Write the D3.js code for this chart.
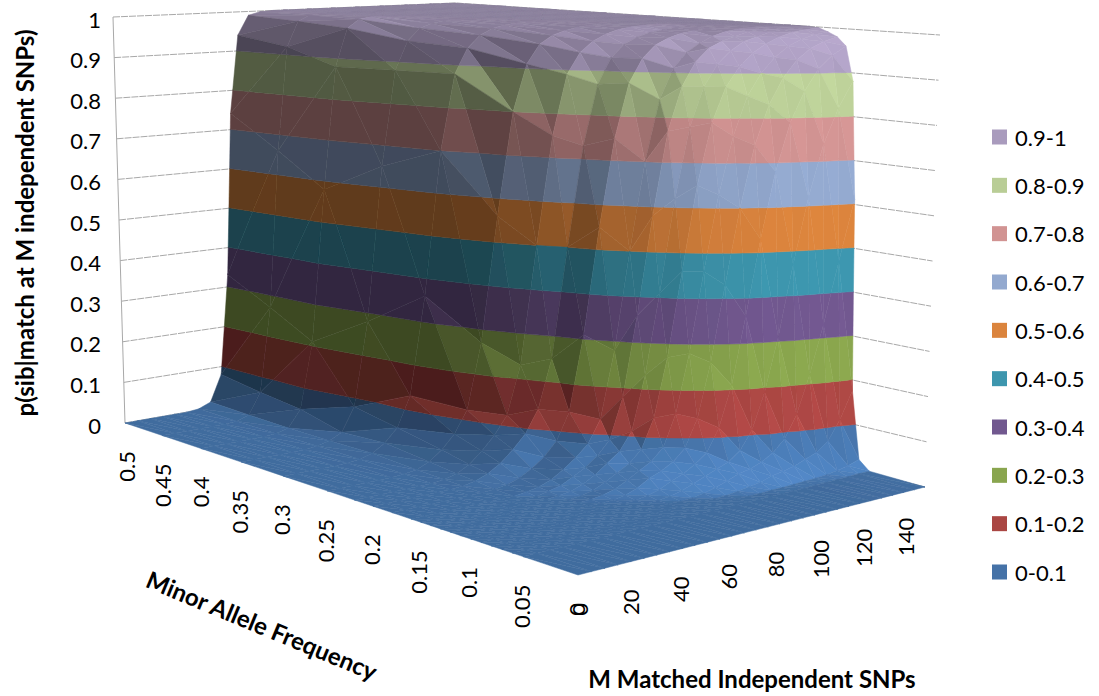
<!DOCTYPE html>
<html>
<head>
<meta charset="utf-8">
<script src="https://cdnjs.cloudflare.com/ajax/libs/d3/7.8.5/d3.min.js"></script>
<style>
  html, body { margin: 0; background: #fff; }
  text { font-family: Lato, "Open Sans", sans-serif; fill: #000; }
</style>
</head>
<body>
<svg id="chart" width="1099" height="696"></svg>
<script>
// values; rows are one minor allele frequency, columns are M
const mValues = [0,5,10,15,20,25,30,35,40,45,50,55,60,65,70,75,80,85,90,95,100,105,110,115,120,125,130,135,140,145];
const mafValues = [0,0.05,0.06,0.07,0.08,0.09,0.1,0.11,0.12,0.13,0.14,0.15,0.16,0.18,0.2,0.22,0.25,0.3,0.35,0.4,0.45,0.5];
const z00 = [0,0,0,0,0,0,0,0,0,0,0,0,0,0,0,0,0,0,0,0,0,0,0,0,0,0,0,0,0,0];
const z05 = [0,0,0,0,0,0,0,0,0,0,0,0,0,0,0,0,0,0,0,0,0,0,0,0,.001,.001,.002,.002,.003,.003];
const z06 = [0,0,0,0,0,0,0,0,0,0,0,0,0,0,0,0,0,0,0,0,0,.001,.001,.002,.003,.004,.006,.01,.015,.023];
const z07 = [0,0,0,0,0,0,0,0,0,0,0,0,0,0,0,0,0,0,.001,.004,.008,.012,.02,.025,.03,.04,.05,.07,.113,.175];
const z08 = [0,0,0,0,0,0,0,0,0,0,0,0,0,0,0,0,.001,.005,.012,.02,.03,.035,.045,.06,.085,.135,.22,.33,.47,.61];
const z09 = [0,0,0,0,0,0,0,0,0,0,0,0,0,0,.001,.004,.01,.02,.03,.04,.05,.07,.11,.19,.31,.47,.62,.74,.82,.88];
const z10 = [0,0,0,0,0,0,0,0,0,0,0,0,0,.001,.005,.012,.025,.035,.05,.07,.12,.21,.36,.53,.68,.79,.86,.91,.94,.96];
const z11 = [0,0,0,0,0,0,0,0,0,0,0,0,.001,.005,.015,.03,.04,.055,.08,.14,.26,.43,.6,.74,.83,.89,.93,.955,.97,.98];
const z12 = [0,0,0,0,0,0,0,0,0,0,0,.001,.005,.012,.025,.04,.055,.08,.15,.28,.46,.63,.76,.85,.9,.935,.96,.975,.985,.99];
const z13 = [0,0,0,0,0,0,0,0,0,0,0,.002,.008,.02,.035,.05,.075,.14,.27,.46,.65,.79,.87,.915,.945,.965,.98,.99,.995,.998];
const z14 = [0,0,0,0,0,0,0,0,0,0,.002,.006,.015,.03,.05,.07,.11,.23,.41,.62,.78,.87,.92,.95,.97,.98,.99,.995,.998,1];
const z15 = [0,0,0,0,0,0,0,0,0,0,.005,.012,.025,.04,.06,.09,.18,.36,.58,.77,.87,.925,.955,.97,.98,.99,.995,.998,1,1];
const z16 = [0,0,0,0,0,0,0,0,0,.003,.008,.018,.035,.055,.08,.13,.28,.5,.7,.84,.91,.945,.965,.98,.99,.995,.998,1,1,1];
const z18 = [0,0,0,0,0,0,0,0,.002,.006,.015,.03,.05,.08,.14,.31,.55,.75,.875,.93,.96,.975,.985,.99,.995,.998,1,1,1,1];
const z20 = [0,0,0,0,0,0,0,.002,.007,.018,.035,.06,.09,.14,.25,.5,.73,.87,.93,.96,.975,.985,.99,.995,.998,1,1,1,1,1];
const z22 = [0,0,0,0,0,0,0,.003,.01,.025,.05,.08,.12,.23,.5,.75,.89,.94,.965,.98,.99,.995,.998,1,1,1,1,1,1,1];
const z25 = [0,0,0,0,0,0,.002,.006,.018,.04,.07,.12,.27,.56,.8,.91,.955,.975,.985,.992,.996,.998,1,1,1,1,1,1,1,1];
const z30 = [0,0,0,0,0,.001,.004,.012,.03,.06,.13,.36,.7,.88,.94,.97,.985,.992,.996,.998,1,1,1,1,1,1,1,1,1,1];
const z35 = [0,0,0,0,0,0,.003,.01,.025,.08,.28,.65,.88,.95,.98,.99,.996,.998,1,1,1,1,1,1,1,1,1,1,1,1];
const z40 = [0,0,0,0,0,0,.002,.01,.05,.21,.58,.88,.974,.995,1,1,1,1,1,1,1,1,1,1,1,1,1,1,1,1];
const z45 = [0,0,0,0,0,0,.002,.012,.063,.27,.66,.92,.983,.997,1,1,1,1,1,1,1,1,1,1,1,1,1,1,1,1];
const z50 = [0,0,0,0,0,0,.003,.015,.08,.33,.74,.94,.99,.998,1,1,1,1,1,1,1,1,1,1,1,1,1,1,1,1];
const rows = [z00,z05,z06,z07,z08,z09,z10,z11,z12,z13,z14,z15,z16,z18,z20,z22,z25,z30,z35,z40,z45,z50];

const zTicks = [0,0.1,0.2,0.3,0.4,0.5,0.6,0.7,0.8,0.9,1];
const mafTicks = ["0.5","0.45","0.4","0.35","0.3","0.25","0.2","0.15","0.1","0.05","0"];
const mTicks = [0,20,40,60,80,100,120,140];
const bandLabels = ["0-0.1","0.1-0.2","0.2-0.3","0.3-0.4","0.4-0.5","0.5-0.6","0.6-0.7","0.7-0.8","0.8-0.9","0.9-1"];
const bandColors = ["#4572a7","#aa4643","#89a54e","#71588f","#3d96ae","#db843d","#93a9cf","#d19392","#b9cd96","#a99bbd"];

const svg = d3.select("#chart");
const xs = d3.scaleLinear().domain([0, 145]).range([0, 1]);
const ys = d3.scaleLinear().domain([0, 0.5]).range([0, 1]);
const zs = d3.scaleLinear().domain([0, 1]).range([0, 1]);

// unit square -> quad, corners in order (0,0) (1,0) (1,1) (0,1)
function quadMap(q) {
  const [[x0,y0],[x1,y1],[x2,y2],[x3,y3]] = q;
  const dx1 = x1-x2, dx2 = x3-x2, sx = x0-x1+x2-x3;
  const dy1 = y1-y2, dy2 = y3-y2, sy = y0-y1+y2-y3;
  const den = dx1*dy2 - dx2*dy1;
  const g = (sx*dy2 - dx2*sy) / den, h = (dx1*sy - sx*dy1) / den;
  const a = x1-x0+g*x1, b = x3-x0+h*x3, d = y1-y0+g*y1, e = y3-y0+h*y3;
  return (u, v) => {
    const w = g*u + h*v + 1;
    return [(a*u + b*v + x0) / w, (d*u + e*v + y0) / w];
  };
}
const floorAt = quadMap([[578,575],[925,487],[455,365],[125,423]]);
const roofAt = quadMap([[581,46],[940,35],[455,3],[113,17]]);

// u along M, v along MAF, w up
function project(u, v, w) {
  const f = floorAt(u, v), t = roofAt(u, v);
  return [f[0] + (t[0]-f[0])*w, f[1] + (t[1]-f[1])*w];
}
const pt = (m, maf, z) => project(xs(m), ys(maf), zs(z));

// --- walls
const wall = svg.append("g").attr("fill", "none").attr("stroke", "#a8a8a8").attr("stroke-width", 1);
wall.selectAll("path.grid").data(zTicks).join("path").attr("class", "grid")
  .attr("stroke-dasharray", "7 1")
  .attr("d", z => d3.line()([pt(0,0.5,z), pt(145,0.5,z), pt(145,0,z)]));
wall.append("path").attr("d", d3.line()([pt(0,0.5,0), pt(0,0.5,1)]));

// --- surface
const smooth = (a, b, t) => { const s = Math.max(0, Math.min(1, (t-a)/(b-a))); return s*s*(3-2*s); };

// faces turned to the M side stay dark, faces turned to the front catch the light
function shade(color, a, b, c) {
  const ux = b[0]-a[0], uy = b[1]-a[1], uz = b[2]-a[2];
  const vx = c[0]-a[0], vy = c[1]-a[1], vz = c[2]-a[2];
  let nx = uy*vz-uz*vy, ny = uz*vx-ux*vz, nz = ux*vy-uy*vx;
  if (nz < 0) { nx = -nx; ny = -ny; nz = -nz; }
  const len = Math.hypot(nx, ny, nz) || 1;
  nx /= len; ny /= len; nz /= len;
  const turn = -ny / (Math.hypot(nx, ny) || 1);
  const dot = 0.75 * Math.max(0, -ny) * smooth(0.3, 0.95, turn) + 0.66 * nz + 0.1 * nx;
  const level = (a[2] + b[2] + c[2]) / 3;
  const f = 0.45 + 0.75 * Math.max(0, dot) - 0.12 * nz * level;
  const k = d3.rgb(color);
  return d3.rgb(k.r*f, k.g*f, k.b*f).formatHex();
}

function clipZ(poly, limit, keepAbove) {
  const out = [];
  poly.forEach((p, i) => {
    const q = poly[(i+1) % poly.length];
    const inP = keepAbove ? p[2] >= limit : p[2] <= limit;
    const inQ = keepAbove ? q[2] >= limit : q[2] <= limit;
    if (inP) out.push(p);
    if (inP !== inQ) {
      const t = (limit-p[2]) / (q[2]-p[2]);
      out.push([p[0]+(q[0]-p[0])*t, p[1]+(q[1]-p[1])*t, limit]);
    }
  });
  return out;
}

const facets = [];
function addTriangle(tri) {
  bandColors.forEach((color, b) => {
    const lo = b/10, hi = (b+1)/10;
    let poly = b === 0 ? tri : clipZ(tri, lo, true);
    if (poly.length) poly = clipZ(poly, hi, false);
    if (poly.length < 3) return;
    if (b > 0 && Math.max(...poly.map(p => p[2])) <= lo) return;
    const fill = shade(color, tri[0], tri[1], tri[2]);
    facets.push({ fill, pts: poly.map(p => project(p[0], p[1], p[2])) });
  });
}
// far to near so the nearer facets paint over
for (let i = mafValues.length-2; i >= 0; i--) {
  for (let j = mValues.length-2; j >= 0; j--) {
    const v = (jj, ii) => [xs(mValues[jj]), ys(mafValues[ii]), zs(rows[ii][jj])];
    addTriangle([v(j+1,i+1), v(j+1,i), v(j,i+1)]);
    addTriangle([v(j,i), v(j,i+1), v(j+1,i)]);
  }
}
svg.append("defs").append("filter").attr("id", "soft")
  .attr("x", "-2%").attr("y", "-2%").attr("width", "104%").attr("height", "104%")
  .append("feGaussianBlur").attr("stdDeviation", 0.6);
svg.append("g").attr("filter", "url(#soft)")
  .selectAll("path").data(facets).join("path")
  .attr("d", d => d3.line()(d.pts) + "Z")
  .attr("fill", d => d.fill)
  .attr("stroke", d => d.fill)
  .attr("stroke-width", 0.5)
  .attr("stroke-linejoin", "round");

// --- tick labels
svg.append("g").selectAll("text").data(zTicks).join("text")
  .attr("x", 101)
  .attr("y", z => pt(0,0.5,z)[1] + 2)
  .attr("text-anchor", "end").attr("dominant-baseline", "central")
  .attr("font-size", 22)
  .text(z => z);

function rotLabel(sel, fx, fy) {
  sel.attr("text-anchor", "end").attr("dominant-baseline", "central")
    .attr("font-size", 22)
    .attr("transform", d => `translate(${fx(d)},${fy(d)}) rotate(-90)`);
}
svg.append("g").selectAll("text").data(mafTicks).join("text")
  .call(rotLabel, d => pt(0,+d,0)[0] + 1 - 3*Math.min(1, (0.5-d)*6), d => pt(0,+d,0)[1] + 28)
  .text(d => d);
svg.append("g").selectAll("text").data(mTicks).join("text")
  .call(rotLabel, d => pt(d,0,0)[0] + 1 - d*0.07, d => pt(d,0,0)[1] + 28)
  .text(d => d);

// --- axis titles
svg.append("text").attr("transform", "translate(24,223) rotate(-90)")
  .attr("text-anchor", "middle").attr("dominant-baseline", "central")
  .attr("font-size", 24).attr("font-weight", 700)
  .text("p(sib|match at M independent SNPs)");
svg.append("text").attr("transform", "translate(262,625) rotate(22.5)")
  .attr("text-anchor", "middle").attr("dominant-baseline", "central")
  .attr("font-size", 24).attr("font-weight", 700)
  .text("Minor Allele Frequency");
svg.append("text").attr("x", 752).attr("y", 678)
  .attr("text-anchor", "middle").attr("dominant-baseline", "central")
  .attr("font-size", 24).attr("font-weight", 700)
  .text("M Matched Independent SNPs");

// --- legend, top band first
const legendY = d3.scalePoint().domain(d3.range(10)).range([137, 572]);
const legend = svg.append("g").selectAll("g").data(bandLabels.map((l, i) => [l, bandColors[i], 9-i])).join("g")
  .attr("transform", d => `translate(992,${legendY(d[2])})`);
legend.append("rect").attr("y", -7.5).attr("width", 15).attr("height", 15).attr("fill", d => d[1]);
legend.append("text").attr("x", 23).attr("dominant-baseline", "central").attr("font-size", 22).text(d => d[0]);
</script>
</body>
</html>
